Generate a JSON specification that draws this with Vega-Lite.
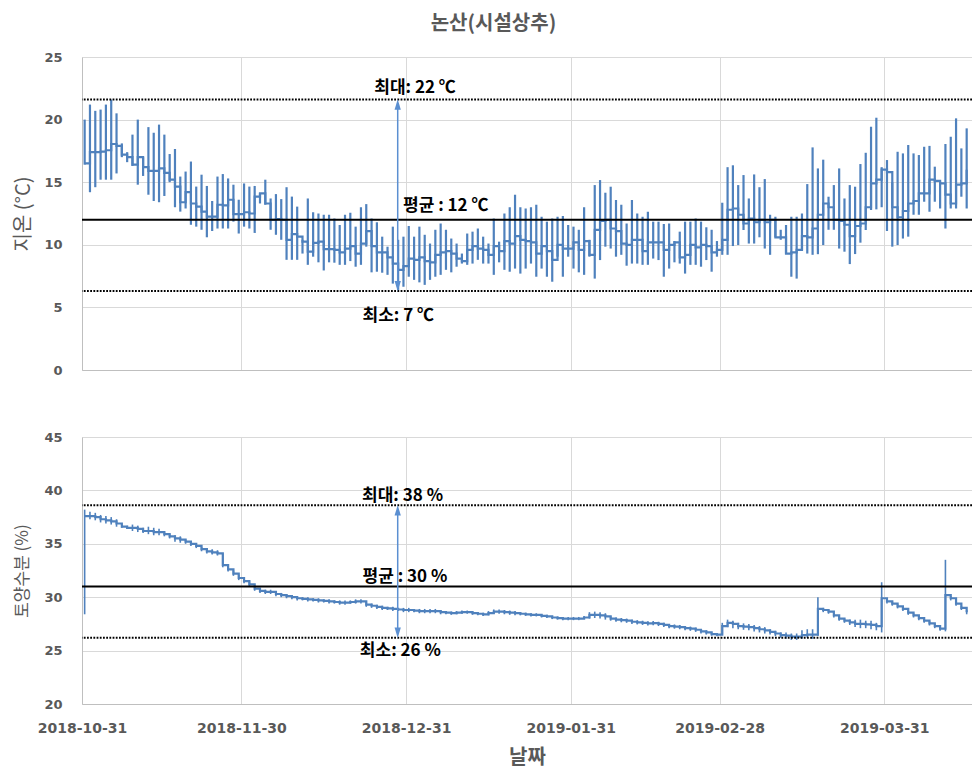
{
  "$schema": "https://vega.github.io/schema/vega-lite/v6.json",
  "background": "white",
  "padding": {"left": 13, "top": 14, "right": 0, "bottom": 6},
  "title": {"text": "논산(시설상추)", "anchor": "middle", "font": "Noto Sans CJK KR", "fontSize": 20, "fontWeight": "bold", "color": "#595959", "offset": 17},
  "config": {
    "view": {"stroke": null},
    "axis": {"gridColor": "#d9d9d9", "domainColor": "#bfbfbf", "ticks": false, "labelColor": "#595959", "titleColor": "#595959"}
  },
  "bounds": "flush",
  "spacing": 67,
  "datasets": {
    "d": [
      {"d":"2018-10-31","tn":16.4,"tx":20.0,"tm":16.5,"mn":28.4,"mx":38.2,"mm":37.6},
      {"d":"2018-11-01","tn":14.2,"tx":21.2,"tm":17.4,"mn":37.3,"mx":38.0,"mm":37.6},
      {"d":"2018-11-02","tn":14.6,"tx":20.7,"tm":17.4,"mn":37.2,"mx":37.9,"mm":37.5},
      {"d":"2018-11-03","tn":15.2,"tx":20.8,"tm":17.45,"mn":37.0,"mx":37.7,"mm":37.3},
      {"d":"2018-11-04","tn":15.2,"tx":21.2,"tm":17.55,"mn":36.9,"mx":37.6,"mm":37.2},
      {"d":"2018-11-05","tn":15.2,"tx":21.6,"tm":18.05,"mn":36.8,"mx":37.5,"mm":37.1},
      {"d":"2018-11-06","tn":15.7,"tx":20.5,"tm":17.9,"mn":36.6,"mx":37.3,"mm":36.9},
      {"d":"2018-11-07","tn":17.0,"tx":18.1,"tm":17.2,"mn":36.5,"mx":36.8,"mm":36.6},
      {"d":"2018-11-08","tn":16.6,"tx":17.4,"tm":17.0,"mn":36.4,"mx":36.7,"mm":36.5},
      {"d":"2018-11-09","tn":16.3,"tx":18.8,"tm":16.4,"mn":36.2,"mx":36.8,"mm":36.5},
      {"d":"2018-11-10","tn":14.8,"tx":20.0,"tm":17.0,"mn":36.1,"mx":36.7,"mm":36.4},
      {"d":"2018-11-11","tn":15.5,"tx":17.0,"tm":16.2,"mn":36.0,"mx":36.5,"mm":36.2},
      {"d":"2018-11-12","tn":14.0,"tx":19.4,"tm":15.9,"mn":35.9,"mx":36.6,"mm":36.2},
      {"d":"2018-11-13","tn":13.5,"tx":18.95,"tm":15.9,"mn":35.8,"mx":36.5,"mm":36.1},
      {"d":"2018-11-14","tn":13.4,"tx":19.6,"tm":16.1,"mn":35.8,"mx":36.4,"mm":36.1},
      {"d":"2018-11-15","tn":13.9,"tx":18.8,"tm":15.75,"mn":35.7,"mx":36.1,"mm":35.9},
      {"d":"2018-11-16","tn":15.0,"tx":17.25,"tm":15.2,"mn":35.5,"mx":35.9,"mm":35.7},
      {"d":"2018-11-17","tn":13.0,"tx":17.65,"tm":14.65,"mn":35.2,"mx":35.8,"mm":35.5},
      {"d":"2018-11-18","tn":12.65,"tx":15.45,"tm":13.4,"mn":35.1,"mx":35.7,"mm":35.4},
      {"d":"2018-11-19","tn":12.9,"tx":15.85,"tm":14.2,"mn":35.0,"mx":35.4,"mm":35.2},
      {"d":"2018-11-20","tn":11.6,"tx":16.65,"tm":13.3,"mn":34.8,"mx":35.2,"mm":35.0},
      {"d":"2018-11-21","tn":11.45,"tx":14.65,"tm":13.05,"mn":34.6,"mx":35.0,"mm":34.8},
      {"d":"2018-11-22","tn":11.2,"tx":15.6,"tm":12.65,"mn":34.3,"mx":34.7,"mm":34.5},
      {"d":"2018-11-23","tn":10.6,"tx":14.7,"tm":12.25,"mn":34.1,"mx":34.6,"mm":34.3},
      {"d":"2018-11-24","tn":11.1,"tx":13.5,"tm":12.25,"mn":34.0,"mx":34.5,"mm":34.2},
      {"d":"2018-11-25","tn":11.3,"tx":15.45,"tm":13.2,"mn":33.9,"mx":34.4,"mm":34.1},
      {"d":"2018-11-26","tn":11.3,"tx":15.65,"tm":13.15,"mn":32.8,"mx":34.1,"mm":33.0},
      {"d":"2018-11-27","tn":11.3,"tx":15.3,"tm":13.6,"mn":32.4,"mx":32.9,"mm":32.6},
      {"d":"2018-11-28","tn":11.85,"tx":14.8,"tm":12.45,"mn":32.0,"mx":32.5,"mm":32.2},
      {"d":"2018-11-29","tn":10.9,"tx":13.6,"tm":12.45,"mn":31.6,"mx":32.1,"mm":31.8},
      {"d":"2018-11-30","tn":11.45,"tx":14.9,"tm":12.6,"mn":31.3,"mx":31.8,"mm":31.5},
      {"d":"2018-12-01","tn":11.3,"tx":14.65,"tm":12.5,"mn":31.0,"mx":31.5,"mm":31.2},
      {"d":"2018-12-02","tn":10.95,"tx":14.7,"tm":13.85,"mn":30.6,"mx":31.1,"mm":30.8},
      {"d":"2018-12-03","tn":13.3,"tx":14.1,"tm":14.1,"mn":30.4,"mx":30.8,"mm":30.6},
      {"d":"2018-12-04","tn":13.2,"tx":15.2,"tm":13.3,"mn":30.3,"mx":30.7,"mm":30.5},
      {"d":"2018-12-05","tn":11.2,"tx":13.7,"tm":12.0,"mn":30.3,"mx":30.7,"mm":30.5},
      {"d":"2018-12-06","tn":10.8,"tx":14.05,"tm":12.05,"mn":30.1,"mx":30.5,"mm":30.3},
      {"d":"2018-12-07","tn":10.4,"tx":13.65,"tm":12.0,"mn":30.0,"mx":30.4,"mm":30.2},
      {"d":"2018-12-08","tn":8.8,"tx":14.6,"tm":10.4,"mn":29.9,"mx":30.3,"mm":30.1},
      {"d":"2018-12-09","tn":8.8,"tx":13.85,"tm":10.85,"mn":29.8,"mx":30.2,"mm":30.0},
      {"d":"2018-12-10","tn":8.8,"tx":13.05,"tm":10.65,"mn":29.7,"mx":30.1,"mm":29.9},
      {"d":"2018-12-11","tn":9.3,"tx":10.4,"tm":10.25,"mn":29.7,"mx":30.0,"mm":29.85},
      {"d":"2018-12-12","tn":8.4,"tx":13.7,"tm":9.45,"mn":29.6,"mx":30.0,"mm":29.8},
      {"d":"2018-12-13","tn":9.05,"tx":12.6,"tm":10.15,"mn":29.6,"mx":29.9,"mm":29.75},
      {"d":"2018-12-14","tn":8.6,"tx":12.5,"tm":10.25,"mn":29.5,"mx":29.9,"mm":29.7},
      {"d":"2018-12-15","tn":7.95,"tx":12.4,"tm":9.65,"mn":29.5,"mx":29.8,"mm":29.65},
      {"d":"2018-12-16","tn":8.6,"tx":12.4,"tm":9.65,"mn":29.4,"mx":29.8,"mm":29.6},
      {"d":"2018-12-17","tn":8.57,"tx":12.1,"tm":9.6,"mn":29.4,"mx":29.7,"mm":29.55},
      {"d":"2018-12-18","tn":8.4,"tx":11.58,"tm":9.4,"mn":29.3,"mx":29.7,"mm":29.5},
      {"d":"2018-12-19","tn":8.4,"tx":12.4,"tm":9.7,"mn":29.3,"mx":29.7,"mm":29.5},
      {"d":"2018-12-20","tn":8.7,"tx":12.56,"tm":9.9,"mn":29.4,"mx":29.7,"mm":29.55},
      {"d":"2018-12-21","tn":8.25,"tx":11.45,"tm":9.3,"mn":29.4,"mx":29.8,"mm":29.6},
      {"d":"2018-12-22","tn":8.4,"tx":13.0,"tm":10.1,"mn":29.4,"mx":29.8,"mm":29.6},
      {"d":"2018-12-23","tn":9.85,"tx":13.25,"tm":11.1,"mn":29.1,"mx":29.6,"mm":29.3},
      {"d":"2018-12-24","tn":7.8,"tx":12.1,"tm":9.9,"mn":29.0,"mx":29.4,"mm":29.2},
      {"d":"2018-12-25","tn":7.85,"tx":11.8,"tm":9.4,"mn":28.9,"mx":29.3,"mm":29.1},
      {"d":"2018-12-26","tn":7.77,"tx":10.65,"tm":9.4,"mn":28.8,"mx":29.2,"mm":29.0},
      {"d":"2018-12-27","tn":7.6,"tx":9.85,"tm":9.0,"mn":28.8,"mx":29.1,"mm":28.95},
      {"d":"2018-12-28","tn":6.9,"tx":11.45,"tm":8.5,"mn":28.7,"mx":29.1,"mm":28.9},
      {"d":"2018-12-29","tn":6.4,"tx":10.4,"tm":8.0,"mn":28.7,"mx":29.0,"mm":28.85},
      {"d":"2018-12-30","tn":6.65,"tx":10.65,"tm":8.3,"mn":28.6,"mx":29.0,"mm":28.8},
      {"d":"2018-12-31","tn":7.45,"tx":11.5,"tm":8.9,"mn":28.6,"mx":29.0,"mm":28.8},
      {"d":"2019-01-01","tn":7.2,"tx":10.65,"tm":8.8,"mn":28.6,"mx":28.9,"mm":28.75},
      {"d":"2019-01-02","tn":7.0,"tx":11.45,"tm":9.0,"mn":28.5,"mx":28.9,"mm":28.7},
      {"d":"2019-01-03","tn":6.8,"tx":10.8,"tm":8.7,"mn":28.5,"mx":28.9,"mm":28.7},
      {"d":"2019-01-04","tn":7.2,"tx":10.1,"tm":8.6,"mn":28.5,"mx":28.9,"mm":28.7},
      {"d":"2019-01-05","tn":7.45,"tx":11.2,"tm":9.2,"mn":28.5,"mx":28.9,"mm":28.7},
      {"d":"2019-01-06","tn":7.6,"tx":11.7,"tm":9.4,"mn":28.4,"mx":28.8,"mm":28.6},
      {"d":"2019-01-07","tn":8.0,"tx":11.2,"tm":9.5,"mn":28.4,"mx":28.7,"mm":28.55},
      {"d":"2019-01-08","tn":7.8,"tx":10.5,"tm":9.3,"mn":28.35,"mx":28.65,"mm":28.5},
      {"d":"2019-01-09","tn":8.25,"tx":10.1,"tm":8.9,"mn":28.4,"mx":28.7,"mm":28.55},
      {"d":"2019-01-10","tn":8.5,"tx":9.3,"tm":8.7,"mn":28.45,"mx":28.75,"mm":28.6},
      {"d":"2019-01-11","tn":8.4,"tx":10.9,"tm":9.6,"mn":28.45,"mx":28.75,"mm":28.6},
      {"d":"2019-01-12","tn":8.5,"tx":11.05,"tm":9.9,"mn":28.35,"mx":28.65,"mm":28.5},
      {"d":"2019-01-13","tn":8.8,"tx":11.3,"tm":9.7,"mn":28.3,"mx":28.6,"mm":28.45},
      {"d":"2019-01-14","tn":8.5,"tx":10.65,"tm":9.6,"mn":28.25,"mx":28.55,"mm":28.4},
      {"d":"2019-01-15","tn":8.5,"tx":10.1,"tm":9.2,"mn":28.3,"mx":28.7,"mm":28.5},
      {"d":"2019-01-16","tn":7.6,"tx":12.1,"tm":9.9,"mn":28.45,"mx":28.85,"mm":28.65},
      {"d":"2019-01-17","tn":8.6,"tx":10.25,"tm":9.5,"mn":28.45,"mx":28.85,"mm":28.65},
      {"d":"2019-01-18","tn":8.0,"tx":12.5,"tm":10.3,"mn":28.4,"mx":28.8,"mm":28.6},
      {"d":"2019-01-19","tn":7.85,"tx":13.0,"tm":10.1,"mn":28.35,"mx":28.75,"mm":28.55},
      {"d":"2019-01-20","tn":8.1,"tx":14.0,"tm":10.7,"mn":28.3,"mx":28.7,"mm":28.5},
      {"d":"2019-01-21","tn":7.7,"tx":13.0,"tm":10.4,"mn":28.3,"mx":28.6,"mm":28.45},
      {"d":"2019-01-22","tn":8.1,"tx":12.9,"tm":10.3,"mn":28.25,"mx":28.55,"mm":28.4},
      {"d":"2019-01-23","tn":8.5,"tx":13.0,"tm":10.2,"mn":28.2,"mx":28.5,"mm":28.35},
      {"d":"2019-01-24","tn":7.45,"tx":13.2,"tm":9.3,"mn":28.2,"mx":28.5,"mm":28.35},
      {"d":"2019-01-25","tn":8.1,"tx":12.24,"tm":9.9,"mn":28.1,"mx":28.4,"mm":28.25},
      {"d":"2019-01-26","tn":7.45,"tx":11.85,"tm":9.5,"mn":28.05,"mx":28.35,"mm":28.2},
      {"d":"2019-01-27","tn":7.05,"tx":12.1,"tm":8.8,"mn":27.95,"mx":28.25,"mm":28.1},
      {"d":"2019-01-28","tn":9.05,"tx":12.24,"tm":10.0,"mn":27.9,"mx":28.2,"mm":28.05},
      {"d":"2019-01-29","tn":7.45,"tx":12.3,"tm":9.7,"mn":27.85,"mx":28.15,"mm":28.0},
      {"d":"2019-01-30","tn":9.05,"tx":11.58,"tm":9.7,"mn":27.85,"mx":28.15,"mm":28.0},
      {"d":"2019-01-31","tn":8.1,"tx":11.45,"tm":10.2,"mn":27.85,"mx":28.15,"mm":28.0},
      {"d":"2019-02-01","tn":7.8,"tx":11.2,"tm":9.6,"mn":27.85,"mx":28.15,"mm":28.0},
      {"d":"2019-02-02","tn":7.6,"tx":13.0,"tm":10.3,"mn":27.95,"mx":28.25,"mm":28.1},
      {"d":"2019-02-03","tn":9.05,"tx":10.4,"tm":9.2,"mn":28.0,"mx":28.6,"mm":28.35},
      {"d":"2019-02-04","tn":7.3,"tx":14.77,"tm":11.2,"mn":28.05,"mx":28.65,"mm":28.35},
      {"d":"2019-02-05","tn":8.78,"tx":15.17,"tm":11.9,"mn":28.0,"mx":28.6,"mm":28.3},
      {"d":"2019-02-06","tn":9.85,"tx":14.16,"tm":12.0,"mn":27.9,"mx":28.5,"mm":28.2},
      {"d":"2019-02-07","tn":9.7,"tx":14.64,"tm":11.3,"mn":27.8,"mx":28.2,"mm":28.0},
      {"d":"2019-02-08","tn":9.05,"tx":13.58,"tm":11.1,"mn":27.7,"mx":28.1,"mm":27.9},
      {"d":"2019-02-09","tn":9.2,"tx":13.2,"tm":10.1,"mn":27.65,"mx":28.05,"mm":27.85},
      {"d":"2019-02-10","tn":8.33,"tx":11.7,"tm":10.0,"mn":27.6,"mx":28.0,"mm":27.8},
      {"d":"2019-02-11","tn":8.5,"tx":13.58,"tm":10.4,"mn":27.5,"mx":27.9,"mm":27.7},
      {"d":"2019-02-12","tn":8.5,"tx":12.5,"tm":10.4,"mn":27.45,"mx":27.85,"mm":27.65},
      {"d":"2019-02-13","tn":8.4,"tx":12.24,"tm":9.5,"mn":27.4,"mx":27.8,"mm":27.6},
      {"d":"2019-02-14","tn":8.4,"tx":12.64,"tm":10.2,"mn":27.35,"mx":27.75,"mm":27.55},
      {"d":"2019-02-15","tn":8.9,"tx":11.85,"tm":10.2,"mn":27.37,"mx":27.77,"mm":27.57},
      {"d":"2019-02-16","tn":8.78,"tx":11.85,"tm":10.2,"mn":27.3,"mx":27.7,"mm":27.5},
      {"d":"2019-02-17","tn":7.45,"tx":11.66,"tm":9.6,"mn":27.2,"mx":27.6,"mm":27.4},
      {"d":"2019-02-18","tn":8.1,"tx":11.7,"tm":10.0,"mn":27.1,"mx":27.5,"mm":27.3},
      {"d":"2019-02-19","tn":8.6,"tx":10.3,"tm":10.2,"mn":27.05,"mx":27.45,"mm":27.25},
      {"d":"2019-02-20","tn":8.5,"tx":11.05,"tm":9.0,"mn":27.0,"mx":27.4,"mm":27.2},
      {"d":"2019-02-21","tn":7.7,"tx":11.85,"tm":9.2,"mn":26.9,"mx":27.3,"mm":27.1},
      {"d":"2019-02-22","tn":8.4,"tx":11.85,"tm":10.0,"mn":26.85,"mx":27.25,"mm":27.05},
      {"d":"2019-02-23","tn":8.4,"tx":12.1,"tm":9.8,"mn":26.75,"mx":27.15,"mm":26.95},
      {"d":"2019-02-24","tn":8.25,"tx":11.85,"tm":10.0,"mn":26.6,"mx":27.0,"mm":26.8},
      {"d":"2019-02-25","tn":8.78,"tx":11.4,"tm":9.9,"mn":26.5,"mx":26.9,"mm":26.7},
      {"d":"2019-02-26","tn":7.85,"tx":11.2,"tm":9.4,"mn":26.4,"mx":26.7,"mm":26.55},
      {"d":"2019-02-27","tn":9.05,"tx":10.3,"tm":9.6,"mn":26.35,"mx":26.65,"mm":26.5},
      {"d":"2019-02-28","tn":9.2,"tx":13.36,"tm":10.4,"mn":26.5,"mx":27.6,"mm":27.3},
      {"d":"2019-03-01","tn":9.2,"tx":16.2,"tm":12.8,"mn":27.2,"mx":27.9,"mm":27.6},
      {"d":"2019-03-02","tn":9.9,"tx":16.35,"tm":12.9,"mn":27.1,"mx":27.8,"mm":27.5},
      {"d":"2019-03-03","tn":9.98,"tx":14.77,"tm":12.4,"mn":27.0,"mx":27.6,"mm":27.3},
      {"d":"2019-03-04","tn":11.18,"tx":15.57,"tm":11.7,"mn":26.95,"mx":27.55,"mm":27.25},
      {"d":"2019-03-05","tn":10.1,"tx":13.7,"tm":12.1,"mn":26.9,"mx":27.5,"mm":27.2},
      {"d":"2019-03-06","tn":10.1,"tx":15.62,"tm":11.8,"mn":26.8,"mx":27.4,"mm":27.1},
      {"d":"2019-03-07","tn":10.6,"tx":14.6,"tm":12.0,"mn":26.7,"mx":27.3,"mm":27.0},
      {"d":"2019-03-08","tn":9.7,"tx":15.25,"tm":11.8,"mn":26.6,"mx":27.2,"mm":26.9},
      {"d":"2019-03-09","tn":9.2,"tx":12.4,"tm":12.0,"mn":26.5,"mx":27.0,"mm":26.75},
      {"d":"2019-03-10","tn":10.6,"tx":12.24,"tm":10.6,"mn":26.35,"mx":26.85,"mm":26.6},
      {"d":"2019-03-11","tn":10.4,"tx":11.2,"tm":10.6,"mn":26.2,"mx":26.7,"mm":26.45},
      {"d":"2019-03-12","tn":9.3,"tx":11.58,"tm":9.3,"mn":26.1,"mx":26.7,"mm":26.4},
      {"d":"2019-03-13","tn":7.45,"tx":12.24,"tm":9.4,"mn":26.0,"mx":26.6,"mm":26.3},
      {"d":"2019-03-14","tn":7.3,"tx":12.24,"tm":9.6,"mn":26.0,"mx":26.6,"mm":26.3},
      {"d":"2019-03-15","tn":9.58,"tx":12.5,"tm":10.7,"mn":26.1,"mx":26.9,"mm":26.45},
      {"d":"2019-03-16","tn":9.3,"tx":14.85,"tm":10.6,"mn":26.2,"mx":27.0,"mm":26.5},
      {"d":"2019-03-17","tn":9.2,"tx":17.78,"tm":11.3,"mn":26.1,"mx":27.0,"mm":26.5},
      {"d":"2019-03-18","tn":9.25,"tx":16.1,"tm":12.4,"mn":26.4,"mx":30.0,"mm":28.9},
      {"d":"2019-03-19","tn":9.98,"tx":16.8,"tm":13.3,"mn":28.6,"mx":29.0,"mm":28.8},
      {"d":"2019-03-20","tn":11.2,"tx":13.84,"tm":13.0,"mn":28.45,"mx":28.85,"mm":28.65},
      {"d":"2019-03-21","tn":11.2,"tx":14.77,"tm":12.0,"mn":28.1,"mx":28.5,"mm":28.3},
      {"d":"2019-03-22","tn":9.7,"tx":16.1,"tm":11.9,"mn":27.8,"mx":28.2,"mm":28.0},
      {"d":"2019-03-23","tn":9.45,"tx":13.7,"tm":11.6,"mn":27.6,"mx":28.0,"mm":27.8},
      {"d":"2019-03-24","tn":8.46,"tx":14.77,"tm":10.7,"mn":27.4,"mx":27.9,"mm":27.65},
      {"d":"2019-03-25","tn":9.26,"tx":14.64,"tm":11.5,"mn":27.2,"mx":27.9,"mm":27.5},
      {"d":"2019-03-26","tn":10.17,"tx":16.45,"tm":11.7,"mn":27.1,"mx":27.9,"mm":27.5},
      {"d":"2019-03-27","tn":11.18,"tx":17.35,"tm":13.0,"mn":27.1,"mx":27.8,"mm":27.45},
      {"d":"2019-03-28","tn":12.78,"tx":19.43,"tm":14.9,"mn":27.0,"mx":27.8,"mm":27.4},
      {"d":"2019-03-29","tn":12.83,"tx":20.15,"tm":15.2,"mn":26.9,"mx":27.6,"mm":27.3},
      {"d":"2019-03-30","tn":13.0,"tx":16.2,"tm":16.0,"mn":26.7,"mx":31.4,"mm":29.9},
      {"d":"2019-03-31","tn":11.1,"tx":16.77,"tm":15.8,"mn":29.4,"mx":29.8,"mm":29.6},
      {"d":"2019-04-01","tn":9.85,"tx":15.0,"tm":13.0,"mn":29.2,"mx":29.6,"mm":29.4},
      {"d":"2019-04-02","tn":9.98,"tx":17.43,"tm":12.2,"mn":28.95,"mx":29.35,"mm":29.15},
      {"d":"2019-04-03","tn":10.5,"tx":17.3,"tm":12.7,"mn":28.7,"mx":29.1,"mm":28.9},
      {"d":"2019-04-04","tn":10.65,"tx":17.97,"tm":13.3,"mn":28.35,"mx":28.75,"mm":28.55},
      {"d":"2019-04-05","tn":12.4,"tx":17.3,"tm":13.5,"mn":28.1,"mx":28.5,"mm":28.3},
      {"d":"2019-04-06","tn":12.4,"tx":17.17,"tm":14.1,"mn":27.85,"mx":28.25,"mm":28.05},
      {"d":"2019-04-07","tn":13.44,"tx":17.83,"tm":14.1,"mn":27.6,"mx":28.0,"mm":27.8},
      {"d":"2019-04-08","tn":12.64,"tx":17.9,"tm":15.2,"mn":27.35,"mx":27.75,"mm":27.55},
      {"d":"2019-04-09","tn":13.44,"tx":16.24,"tm":15.1,"mn":27.1,"mx":27.5,"mm":27.3},
      {"d":"2019-04-10","tn":12.9,"tx":15.04,"tm":14.9,"mn":26.85,"mx":27.25,"mm":27.05},
      {"d":"2019-04-11","tn":11.3,"tx":18.05,"tm":14.0,"mn":26.8,"mx":33.5,"mm":30.2},
      {"d":"2019-04-12","tn":12.9,"tx":18.63,"tm":13.3,"mn":29.7,"mx":30.1,"mm":29.9},
      {"d":"2019-04-13","tn":12.9,"tx":20.1,"tm":14.8,"mn":29.2,"mx":29.6,"mm":29.4},
      {"d":"2019-04-14","tn":13.84,"tx":17.7,"tm":14.9,"mn":28.8,"mx":29.2,"mm":29.0},
      {"d":"2019-04-15","tn":12.9,"tx":19.3,"tm":16.0,"mn":28.4,"mx":28.8,"mm":28.6}
    ]
  },
  "vconcat": [
    {
      "width": 890,
      "height": 313,
      "data": {"name": "d"},
      "layer": [
        {
          "mark": {"type": "rule", "color": "#4f81bd", "strokeWidth": 2.2, "xOffset": 2.65},
          "encoding": {
            "x": {"field": "d", "type": "temporal",
              "scale": {"type": "utc", "domain": [{"year": 2018, "month": 10, "date": 31, "utc": true}, {"year": 2019, "month": 4, "date": 16, "hours": 12, "utc": true}]},
              "axis": {"values": [{"year": 2018, "month": 10, "date": 31, "utc": true}, {"year": 2018, "month": 11, "date": 30, "utc": true}, {"year": 2018, "month": 12, "date": 31, "utc": true}, {"year": 2019, "month": 1, "date": 31, "utc": true}, {"year": 2019, "month": 2, "date": 28, "utc": true}, {"year": 2019, "month": 3, "date": 31, "utc": true}],
                "labels": false, "title": null, "grid": true}},
            "y": {"field": "tn", "type": "quantitative", "title": "지온 (°C)",
              "scale": {"domain": [0, 25], "nice": false},
              "axis": {"values": [0, 5, 10, 15, 20, 25], "labelFont": "DejaVu Sans", "labelFontWeight": "bold", "labelFontSize": 13, "labelPadding": 20,
                "titleFont": "Noto Sans CJK KR", "titleFontSize": 20, "titleFontWeight": "normal", "titlePadding": 10}},
            "y2": {"field": "tx"}
          }
        },
        {
          "mark": {"type": "line", "interpolate": "step-after", "color": "#4f81bd", "strokeWidth": 2.2, "xOffset": 2.65},
          "encoding": {"x": {"field": "d", "type": "temporal"}, "y": {"field": "tm", "type": "quantitative"}}
        },
        {
          "data": {"values": [{}]},
          "mark": {"type": "rule", "color": "black", "strokeWidth": 2, "strokeDash": [1.8, 1.4]},
          "encoding": {"y": {"datum": 21.6}}
        },
        {
          "data": {"values": [{}]},
          "mark": {"type": "rule", "color": "black", "strokeWidth": 2, "strokeDash": [1.8, 1.4]},
          "encoding": {"y": {"datum": 6.3}}
        },
        {
          "data": {"values": [{}]},
          "mark": {"type": "rule", "color": "black", "strokeWidth": 2},
          "encoding": {"y": {"datum": 12.0}}
        },
        {
          "data": {"values": [{}]},
          "mark": {"type": "rule", "color": "#5b8fd1", "strokeWidth": 1.5},
          "encoding": {"x": {"datum": {"year": 2018, "month": 12, "date": 29, "hours": 10, "utc": true}, "type": "temporal"}, "y": {"datum": 6.6}, "y2": {"datum": 21.3}}
        },
        {
          "data": {"values": [{}]},
          "mark": {"type": "point", "shape": "M0,-1L0.6,1L-0.6,1Z", "filled": true, "opacity": 1, "color": "#5b8fd1", "size": 110, "yOffset": 5},
          "encoding": {"x": {"datum": {"year": 2018, "month": 12, "date": 29, "hours": 10, "utc": true}, "type": "temporal"}, "y": {"datum": 21.6}}
        },
        {
          "data": {"values": [{}]},
          "mark": {"type": "point", "shape": "M0,1L0.6,-1L-0.6,-1Z", "filled": true, "opacity": 1, "color": "#5b8fd1", "size": 110, "yOffset": -5},
          "encoding": {"x": {"datum": {"year": 2018, "month": 12, "date": 29, "hours": 10, "utc": true}, "type": "temporal"}, "y": {"datum": 6.3}}
        },
        {
          "data": {"values": [{}]},
          "mark": {"type": "text", "text": "최대: 22 ℃", "align": "left", "baseline": "middle", "font": "Noto Sans CJK KR", "fontSize": 17, "fontWeight": "bold", "color": "black"},
          "encoding": {"x": {"datum": {"year": 2018, "month": 12, "date": 25, "utc": true}, "type": "temporal"}, "y": {"datum": 22.5}}
        },
        {
          "data": {"values": [{}]},
          "mark": {"type": "text", "text": "평균 : 12 ℃", "align": "left", "baseline": "middle", "font": "Noto Sans CJK KR", "fontSize": 17, "fontWeight": "bold", "color": "black"},
          "encoding": {"x": {"datum": {"year": 2018, "month": 12, "date": 30, "hours": 10, "utc": true}, "type": "temporal"}, "y": {"datum": 13.1}}
        },
        {
          "data": {"values": [{}]},
          "mark": {"type": "text", "text": "최소: 7 ℃", "align": "left", "baseline": "middle", "font": "Noto Sans CJK KR", "fontSize": 17, "fontWeight": "bold", "color": "black"},
          "encoding": {"x": {"datum": {"year": 2018, "month": 12, "date": 22, "hours": 19, "utc": true}, "type": "temporal"}, "y": {"datum": 4.35}}
        }
      ]
    },
    {
      "width": 890,
      "height": 267,
      "data": {"name": "d"},
      "layer": [
        {
          "mark": {"type": "rule", "color": "#4f81bd", "strokeWidth": 1.6, "xOffset": 2.65},
          "encoding": {
            "x": {"field": "d", "type": "temporal", "title": "날짜",
              "scale": {"type": "utc", "domain": [{"year": 2018, "month": 10, "date": 31, "utc": true}, {"year": 2019, "month": 4, "date": 16, "hours": 12, "utc": true}]},
              "axis": {"values": [{"year": 2018, "month": 10, "date": 31, "utc": true}, {"year": 2018, "month": 11, "date": 30, "utc": true}, {"year": 2018, "month": 12, "date": 31, "utc": true}, {"year": 2019, "month": 1, "date": 31, "utc": true}, {"year": 2019, "month": 2, "date": 28, "utc": true}, {"year": 2019, "month": 3, "date": 31, "utc": true}],
                "format": "%Y-%m-%d", "labelFlush": false, "labelOverlap": false, "labelFont": "DejaVu Sans", "labelFontWeight": "bold", "labelFontSize": 14, "labelPadding": 17, "grid": true,
                "titleFont": "Noto Sans CJK KR", "titleFontSize": 20, "titleFontWeight": "bold", "titlePadding": 12}},
            "y": {"field": "mn", "type": "quantitative", "title": "토양수분 (%)",
              "scale": {"domain": [20, 45], "nice": false},
              "axis": {"values": [20, 25, 30, 35, 40, 45], "labelFont": "DejaVu Sans", "labelFontWeight": "bold", "labelFontSize": 13, "labelPadding": 20,
                "titleFont": "Noto Sans CJK KR", "titleFontSize": 17, "titleFontWeight": "normal", "titlePadding": 12}},
            "y2": {"field": "mx"}
          }
        },
        {
          "mark": {"type": "line", "interpolate": "step-after", "color": "#4f81bd", "strokeWidth": 2.2, "xOffset": 2.65},
          "encoding": {"x": {"field": "d", "type": "temporal"}, "y": {"field": "mm", "type": "quantitative"}}
        },
        {
          "data": {"values": [{}]},
          "mark": {"type": "rule", "color": "black", "strokeWidth": 2, "strokeDash": [1.8, 1.4]},
          "encoding": {"y": {"datum": 38.6}}
        },
        {
          "data": {"values": [{}]},
          "mark": {"type": "rule", "color": "black", "strokeWidth": 2, "strokeDash": [1.8, 1.4]},
          "encoding": {"y": {"datum": 26.2}}
        },
        {
          "data": {"values": [{}]},
          "mark": {"type": "rule", "color": "black", "strokeWidth": 2},
          "encoding": {"y": {"datum": 31.0}}
        },
        {
          "data": {"values": [{}]},
          "mark": {"type": "rule", "color": "#5b8fd1", "strokeWidth": 1.5},
          "encoding": {"x": {"datum": {"year": 2018, "month": 12, "date": 29, "hours": 10, "utc": true}, "type": "temporal"}, "y": {"datum": 26.6}, "y2": {"datum": 38.2}}
        },
        {
          "data": {"values": [{}]},
          "mark": {"type": "point", "shape": "M0,-1L0.6,1L-0.6,1Z", "filled": true, "opacity": 1, "color": "#5b8fd1", "size": 110, "yOffset": 5},
          "encoding": {"x": {"datum": {"year": 2018, "month": 12, "date": 29, "hours": 10, "utc": true}, "type": "temporal"}, "y": {"datum": 38.6}}
        },
        {
          "data": {"values": [{}]},
          "mark": {"type": "point", "shape": "M0,1L0.6,-1L-0.6,-1Z", "filled": true, "opacity": 1, "color": "#5b8fd1", "size": 110, "yOffset": -5},
          "encoding": {"x": {"datum": {"year": 2018, "month": 12, "date": 29, "hours": 10, "utc": true}, "type": "temporal"}, "y": {"datum": 26.2}}
        },
        {
          "data": {"values": [{}]},
          "mark": {"type": "text", "text": "최대: 38 %", "align": "left", "baseline": "middle", "font": "Noto Sans CJK KR", "fontSize": 17, "fontWeight": "bold", "color": "black"},
          "encoding": {"x": {"datum": {"year": 2018, "month": 12, "date": 22, "hours": 17, "utc": true}, "type": "temporal"}, "y": {"datum": 39.5}}
        },
        {
          "data": {"values": [{}]},
          "mark": {"type": "text", "text": "평균 : 30 %", "align": "left", "baseline": "middle", "font": "Noto Sans CJK KR", "fontSize": 17, "fontWeight": "bold", "color": "black"},
          "encoding": {"x": {"datum": {"year": 2018, "month": 12, "date": 22, "hours": 19, "utc": true}, "type": "temporal"}, "y": {"datum": 31.9}}
        },
        {
          "data": {"values": [{}]},
          "mark": {"type": "text", "text": "최소: 26 %", "align": "left", "baseline": "middle", "font": "Noto Sans CJK KR", "fontSize": 17, "fontWeight": "bold", "color": "black"},
          "encoding": {"x": {"datum": {"year": 2018, "month": 12, "date": 22, "hours": 7, "utc": true}, "type": "temporal"}, "y": {"datum": 24.95}}
        }
      ]
    }
  ]
}
